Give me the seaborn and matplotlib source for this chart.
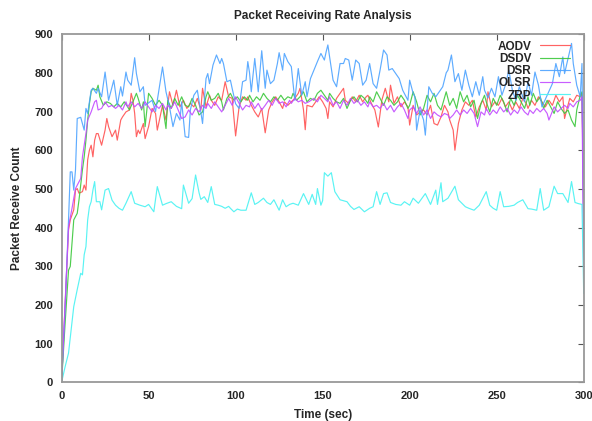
import matplotlib
matplotlib.use("Agg")
import matplotlib.pyplot as plt
import seaborn as sns
import pandas as pd

# ---------------- data ----------------
AODV_t = [0,2,4,5,7,8,9,10,12,13,14,15,16,17,18,19,20,21,23,25,26,27,29,31,32,34,35,37,39,40,41,42,43,44,45,47,48,50,52,54,55,56,58,60,62,64,66,68,70,72,74,76,78,80,81,83,85,86,88,90,92,94,96,98,100,102,104,106,107,109,111,113,115,117,119,121,123,125,127,128,130,132,134,136,137,139,140,141,144,146,148,150,152,153,154,156,158,160,162,163,165,167,169,171,173,175,176,178,180,182,184,186,188,189,191,193,195,197,199,200,202,204,206,208,210,212,214,216,218,220,222,223,225,226,227,228,230,232,234,236,238,240,242,244,245,247,249,251,253,255,257,259,261,263,265,267,268,270,272,274,276,278,280,282,284,286,288,289,290,292,294,296,298,299,300]
AODV_v = [0,200,394,420,446,497,501,489,493,510,497,575,600,613,583,626,643,643,613,652,682,661,635,652,626,678,686,699,704,747,729,695,635,652,643,669,630,661,708,695,652,673,716,678,751,716,755,712,729,708,721,712,734,704,760,712,742,729,716,738,729,777,738,734,637,712,738,729,738,716,699,686,708,645,704,725,738,725,708,725,716,725,734,747,760,704,653,716,712,725,738,725,708,682,725,712,734,747,760,729,721,738,725,742,725,738,742,721,704,660,729,760,725,768,721,738,712,725,712,665,716,691,699,704,691,716,669,665,686,716,699,678,652,600,635,669,704,725,716,729,686,712,729,704,751,712,725,716,734,712,725,704,725,708,734,721,708,729,716,738,725,712,729,716,742,725,738,682,700,734,725,742,738,747,420]

DSDV_t = [0,2,4,5,7,9,10,12,13,14,15,16,17,18,20,21,22,24,26,28,30,32,34,36,38,39,41,43,44,46,47,48,50,52,54,56,58,60,61,63,65,67,69,71,73,75,77,79,81,83,84,86,88,90,92,93,95,97,99,101,103,105,107,108,110,112,114,116,118,120,122,124,126,128,130,132,133,135,137,139,141,143,145,147,149,151,153,154,156,158,160,162,164,166,168,170,172,174,176,177,179,181,183,185,187,189,191,193,195,197,199,200,202,204,206,208,210,212,214,216,218,221,223,225,227,229,231,233,235,237,239,241,243,244,246,248,250,252,254,256,258,260,262,264,266,268,269,271,273,275,277,279,281,283,285,287,289,291,293,295,296,298,299,300]
DSDV_v = [0,150,290,300,420,437,471,550,583,626,678,720,751,760,755,768,738,716,725,721,712,721,712,725,712,704,725,747,734,704,725,661,747,734,716,729,716,656,729,708,734,716,738,716,712,734,716,691,699,738,751,729,734,747,725,704,734,747,729,738,725,738,729,742,725,738,729,747,734,725,738,729,742,729,738,734,747,729,738,751,725,734,729,747,755,742,729,747,734,725,721,734,708,729,738,725,742,734,721,738,725,751,734,716,738,729,716,725,742,729,708,716,751,725,691,708,742,725,747,716,704,751,716,734,708,751,725,742,712,729,682,721,742,725,699,734,716,742,725,699,734,716,742,725,708,738,716,747,725,738,708,729,712,695,725,708,695,704,678,661,704,742,751,480]

DSR_t = [0,2,4,5,6,7,8,9,11,12,13,14,15,17,18,20,21,23,25,27,30,32,34,35,37,38,40,42,43,45,47,48,52,54,58,60,62,64,66,68,69,71,73,74,76,78,80,81,83,84,85,87,89,91,92,93,95,97,98,100,102,104,106,107,108,109,111,113,114,115,117,118,120,122,124,125,127,128,130,132,134,136,138,140,141,143,145,147,149,151,152,153,154,156,158,160,162,163,165,167,169,171,173,175,177,179,181,183,185,187,188,190,192,194,196,199,200,202,203,204,206,208,209,211,213,215,217,219,221,222,224,226,228,230,232,234,236,238,240,242,243,245,247,249,251,253,255,257,259,261,263,266,268,270,272,274,276,279,282,284,286,288,289,291,293,294,296,298,299,300]
DSR_v = [0,187,420,544,544,497,549,682,685,669,652,708,695,755,760,747,760,738,802,729,781,716,764,740,802,781,768,839,798,751,764,716,729,700,815,751,712,661,695,678,725,635,633,704,742,755,699,669,785,798,772,820,846,824,837,824,777,781,760,720,708,777,781,829,800,751,837,751,803,857,760,807,772,781,824,852,807,850,829,816,729,811,742,777,738,785,807,829,850,833,854,872,841,781,764,824,824,837,833,781,833,824,768,781,824,772,760,807,859,846,807,811,798,785,755,729,781,747,738,652,704,678,639,764,747,738,751,764,800,807,846,777,798,755,807,768,738,777,742,790,755,735,760,738,790,742,768,807,755,729,764,725,777,742,802,768,712,742,772,824,790,841,798,837,876,824,768,738,824,350]

OLSR_t = [0,2,4,6,8,10,11,12,14,15,17,19,20,21,23,25,27,29,31,33,35,37,38,40,42,44,46,48,50,52,54,56,58,60,61,63,65,67,69,71,73,75,77,79,81,83,84,86,88,90,92,94,96,98,100,102,104,106,108,109,111,113,115,117,119,121,123,125,127,129,131,132,134,136,138,140,142,145,147,149,151,153,154,156,158,160,162,164,166,168,170,172,174,176,177,179,181,183,185,187,189,191,193,195,197,199,200,202,204,206,208,210,212,214,216,218,220,222,223,225,227,229,231,233,235,237,239,241,243,244,246,248,250,252,254,256,258,260,262,264,266,268,269,271,273,275,277,279,280,283,285,287,289,291,292,294,296,298,299,300]
OLSR_v = [0,200,402,450,501,518,527,583,643,678,699,725,729,704,708,725,712,716,708,716,704,725,712,725,712,721,708,725,712,699,716,708,721,704,716,708,725,704,682,686,704,691,708,699,716,708,721,708,725,712,699,716,734,716,738,721,704,716,712,725,708,721,704,716,729,716,734,721,725,712,729,721,734,725,729,721,725,734,725,742,734,725,738,716,725,708,729,716,734,721,729,716,725,712,725,712,716,708,721,704,716,699,712,721,704,682,704,712,695,712,691,704,682,699,691,686,695,691,682,691,704,691,704,695,708,695,661,699,691,708,691,704,695,712,699,708,691,704,695,712,699,691,704,695,708,699,708,695,678,712,699,708,716,708,721,712,725,729,738,270]

ZRP_t = [0,2,4,7,9,11,12,13,14,15,16,17,18,19,20,22,23,25,27,29,31,33,35,37,40,42,45,48,50,53,55,58,60,63,66,69,70,73,75,77,79,80,82,84,86,88,90,92,94,96,97,99,101,103,106,109,111,113,116,118,120,122,125,127,129,131,133,136,139,142,144,146,147,149,150,151,153,155,157,160,164,166,168,171,174,177,179,181,183,185,187,189,192,195,197,200,202,205,209,212,215,216,218,219,222,226,228,232,234,237,240,244,246,248,250,252,254,257,260,262,265,268,270,273,275,277,280,283,285,288,291,293,295,297,299,300]
ZRP_v = [0,40,76,196,240,282,278,330,351,420,454,467,497,519,467,467,446,497,501,471,458,450,445,463,493,463,458,454,460,441,506,458,462,467,455,449,510,463,475,536,490,473,480,465,506,460,458,455,450,455,450,441,448,445,445,490,460,465,476,465,460,472,445,472,454,460,463,458,488,460,486,460,501,458,470,542,533,542,493,472,467,455,447,454,441,450,454,493,460,488,490,465,460,458,467,458,476,463,488,460,497,460,516,467,476,507,472,454,450,445,458,493,458,450,445,493,454,455,458,465,472,449,448,445,501,445,454,507,488,488,465,519,465,462,460,230]

protocols = ["AODV", "DSDV", "DSR", "OLSR", "ZRP"]
colors = ["#ff5252", "#3cc83c", "#4da3ff", "#c24cff", "#48f2f2"]
x_ticks = [0, 50, 100, 150, 200, 250, 300]
y_ticks = [0, 100, 200, 300, 400, 500, 600, 700, 800, 900]

series = {
    "AODV": (AODV_t, AODV_v),
    "DSDV": (DSDV_t, DSDV_v),
    "DSR": (DSR_t, DSR_v),
    "OLSR": (OLSR_t, OLSR_v),
    "ZRP": (ZRP_t, ZRP_v),
}
frames = []
for name in protocols:
    t, v = series[name]
    frames.append(pd.DataFrame({"Time": t, "Count": v, "Protocol": name}))
df = pd.concat(frames, ignore_index=True)

# ---------------- style ----------------
sns.set_theme(style="white")
plt.rcParams["font.family"] = ["Liberation Sans", "DejaVu Sans"]
plt.rcParams["font.weight"] = "bold"

fig = plt.figure(figsize=(5.92, 4.21), dpi=100)
ax = fig.add_axes([0.104, 0.0915, 0.882, 0.8275])

sns.lineplot(data=df, x="Time", y="Count", hue="Protocol", hue_order=protocols,
             palette=dict(zip(protocols, colors)), estimator=None, sort=False,
             linewidth=0.85, alpha=0.9, ax=ax)

ax.set_xlim(0, 300)
ax.set_ylim(0, 900)
ax.set_xticks(x_ticks)
ax.set_yticks(y_ticks)
ax.tick_params(direction="in", length=4, width=0.8, color="#555555",
               top=True, right=True, labelsize=8, pad=6)
for lab in ax.get_xticklabels() + ax.get_yticklabels():
    lab.set_fontweight("bold")
for sp in ax.spines.values():
    sp.set_color("#999999")
    sp.set_linewidth(1.3)

ax.set_title("Packet Receiving Rate Analysis", fontsize=8.5, fontweight="bold", pad=11)
ax.set_xlabel("Time (sec)", fontsize=8.5, fontweight="bold", labelpad=6)
ax.set_ylabel("Packet Receive Count", fontsize=8.5, fontweight="bold", labelpad=8)

leg = ax.legend(loc="upper right", bbox_to_anchor=(0.987, 1.0), frameon=False,
                markerfirst=False, fontsize=8.5, handlelength=2.6, handletextpad=0.7,
                labelspacing=0.02, borderaxespad=0.3, borderpad=0.25)
for txt in leg.get_texts():
    txt.set_fontweight("bold")
for ln in leg.get_lines():
    ln.set_linewidth(0.85)

fig.savefig("out.png", dpi=100)
